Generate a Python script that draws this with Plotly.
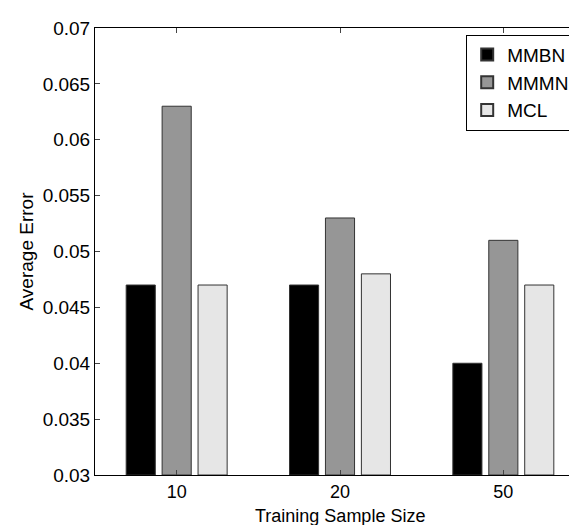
import plotly.graph_objects as go

categories = ["10", "20", "50"]
mmbn = [0.047, 0.047, 0.040]
mmmn = [0.063, 0.053, 0.051]
mcl = [0.047, 0.048, 0.047]
y_ticks = [0.03, 0.035, 0.04, 0.045, 0.05, 0.055, 0.06, 0.065, 0.07]
y_labels = ["0.03", "0.035", "0.04", "0.045", "0.05", "0.055", "0.06", "0.065", "0.07"]
base_value = 0.03

x = [1, 2, 3]
font = "Liberation Sans, Arial, sans-serif"
fs = 19
fsx = 18

fig = go.Figure()
for name, vals, col in [("MMBN", mmbn, "#000000"), ("MMMN", mmmn, "#969696"), ("MCL", mcl, "#e6e6e6")]:
    fig.add_trace(go.Bar(x=x, y=[v - base_value for v in vals], base=base_value, name=name,
                         marker=dict(color=col, line=dict(color="#333333", width=1))))

fig.update_layout(
    width=577, height=525,
    margin=dict(l=87, r=0, t=20, b=58),
    paper_bgcolor="white", plot_bgcolor="white",
    barmode="group", bargap=0.34, bargroupgap=0.19,
    font=dict(family=font, size=fs, color="black"),
    legend=dict(x=0.98, y=0.985, xanchor="right", yanchor="top", bgcolor="white",
                bordercolor="black", borderwidth=1, font=dict(size=fs), tracegroupgap=0,
                itemsizing="constant"),
    annotations=[dict(text="Training Sample Size", xref="paper", yref="paper", x=0.5, y=0,
                      xanchor="center", yanchor="middle", yshift=-41, showarrow=False,
                      font=dict(size=fsx))],
)
fig.update_xaxes(range=[0.5, 3.5], tickvals=x, ticktext=categories, ticks="inside", ticklen=5,
                 showline=True, linecolor="black", linewidth=1, mirror="ticks", showgrid=False,
                 automargin=False, ticklabelstandoff=0, tickfont=dict(size=fsx))
fig.update_yaxes(range=[0.03, 0.07], tickvals=y_ticks, ticktext=y_labels, ticks="inside", ticklen=5,
                 showline=True, linecolor="black", linewidth=1, mirror="ticks", showgrid=False, zeroline=False,
                 automargin=False, ticklabelstandoff=0,
                 title=dict(text="Average Error", standoff=4, font=dict(size=fs)), tickfont=dict(size=fs))
fig.write_html("out.html")
